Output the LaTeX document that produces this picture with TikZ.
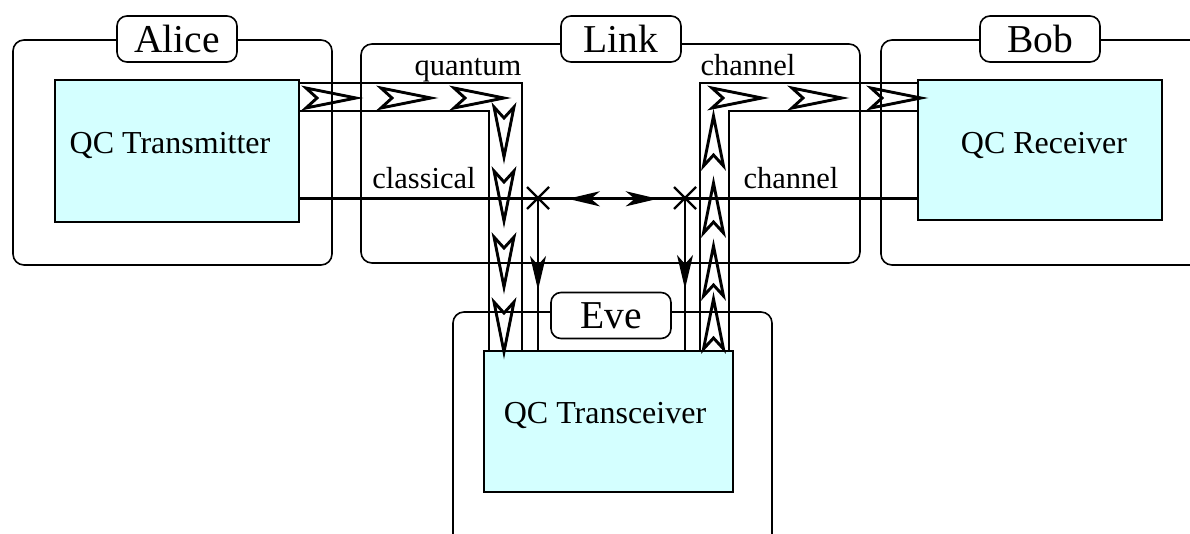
\documentclass[tikz,border=0pt]{standalone}
\usepackage{fontspec}
\setmainfont{Liberation Serif}
\usetikzlibrary{arrows.meta,calc,decorations.markings}
\definecolor{qcfill}{RGB}{212,255,255}
\begin{document}
\begin{tikzpicture}[x=1pt,y=-1pt,
  party/.style={draw, line width=1.6pt, rounded corners=11pt, inner sep=0pt},
  tag/.style={draw, fill=white, line width=1.6pt, rounded corners=10pt,
    minimum width=120pt, minimum height=46pt, inner sep=0pt,
    font=\fontsize{39.5}{39.5}\selectfont},
  qcbox/.style={draw, fill=qcfill, line width=1.6pt, inner sep=0pt},
  qctext/.style={anchor=base, font=\fontsize{32}{32}\selectfont},
  chtext/.style={anchor=base, font=\fontsize{30.5}{30.5}\selectfont},
  tube/.style={line width=1.6pt},
  classic/.style={line width=3pt},
  tapline/.style={line width=1.8pt},
  cltip/.tip={Stealth[length=32pt,width=15pt,inset=9pt]},
  taptip/.tip={Stealth[length=34pt,width=16pt,inset=9pt]},
  pulse/.pic={\draw[line width=2.9pt, miter limit=10]
    (0,0) -- (-50,-10) -- (-39,0) -- (-50,10) -- cycle;},
  tapmark/.pic={\draw[line width=2.4pt] (-11,-11) -- (11,11) (-11,11) -- (11,-11);}
]
\useasboundingbox (0,0) rectangle (1190,533);
\clip (0,0) rectangle (1190,533);

% parties
\node[party, minimum width=319pt, minimum height=225pt] (alice) at (172.5,152.5) {};
\node[party, minimum width=499pt, minimum height=219pt] (link) at (610.5,153.5) {};
\node[party, minimum width=334pt, minimum height=225pt] (bob) at (1048,152.5) {};
\node[party, minimum width=319pt, minimum height=250pt] (eve) at (612.5,437) {};

\node[tag] (alicetag) at (177,39) {Alice};
\node[tag] (linktag) at (621,39) {Link};
\node[tag] (bobtag) at (1040,39) {Bob};
\node[tag] (evetag) at (611,315.5) {Eve};

% devices
\node[qcbox, minimum width=244pt, minimum height=142pt] (tx) at (177,151) {};
\node[qcbox, minimum width=244pt, minimum height=140pt] (rx) at (1040,150) {};
\node[qcbox, minimum width=249pt, minimum height=141pt] (trx) at (608.5,421.5) {};
\node[qctext] at ($(tx.center)+(-7,2)$) {QC Transmitter};
\node[qctext] at ($(rx.center)+(4,3)$) {QC Receiver};
\node[qctext] at ($(trx.center)+(-3.5,1.5)$) {QC Transceiver};

% quantum channel tubes
\draw[tube] ($(tx.north east)+(0,4)$) -| ($(trx.north west)+(39,0)$);
\draw[tube] ($(tx.north east)+(0,32)$) -| ($(trx.north west)+(6,0)$);
\draw[tube] ($(trx.north east)+(-34,0)$) |- ($(rx.north west)+(0,4)$);
\draw[tube] ($(trx.north east)+(-5,0)$) |- ($(rx.north west)+(0,32)$);

% photons travelling through the tubes
\foreach \x in {356,431,504} \pic at (\x,98) {pulse};
\foreach \y in {157,221,287,352} \pic[rotate=-90] at (504,\y) {pulse};
\foreach \y in {116,183,246,299} \pic[rotate=90] at (713.5,\y) {pulse};
\foreach \x in {762,842,921} \pic at (\x,98) {pulse};

% classical channel
\coordinate (cl) at ($(tx.south east)+(0,-24)$);
\draw[classic, postaction={decorate}, decoration={markings,
    mark=at position 268pt with {\arrowreversed{cltip}},
    mark=at position 358pt with {\arrow{cltip}}}]
  (cl) -- (cl -| rx.west);

% taps on the classical channel
\coordinate (tapL) at (538,198);
\coordinate (tapR) at (685,198);
\draw[tapline, postaction={decorate}, decoration={markings,
    mark=at position 92pt with {\arrow{taptip}}}]
  (tapL) -- (tapL |- trx.north);
\draw[tapline, postaction={decorate}, decoration={markings,
    mark=at position 91pt with {\arrow{taptip}}}]
  (tapR) -- (tapR |- trx.north);
\pic at (tapL) {tapmark};
\pic at (tapR) {tapmark};

% channel labels
\node[chtext] at (468,75) {quantum};
\node[chtext] at (748,75) {channel};
\node[chtext] at (424,188) {classical};
\node[chtext] at (791,188) {channel};
\end{tikzpicture}
\end{document}
